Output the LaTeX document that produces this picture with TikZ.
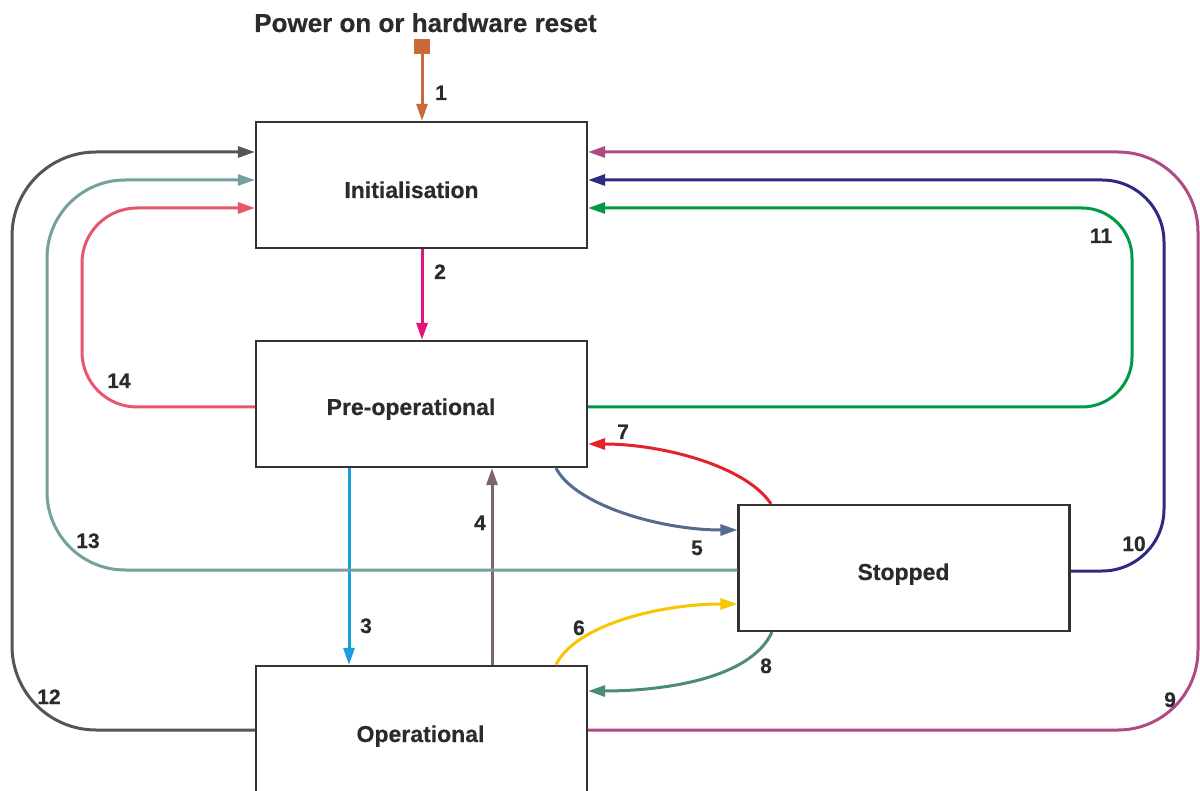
\documentclass[tikz,border=0pt]{standalone}
\usepackage{fontspec}
\setmainfont{Liberation Sans}[BoldFeatures={FakeBold=0.5}]
\usetikzlibrary{arrows.meta,calc}

\definecolor{txt}{HTML}{2B2B2B}
\definecolor{boxc}{HTML}{333333}
\definecolor{cA}{HTML}{C96A3A}
\definecolor{cB}{HTML}{E2127F}
\definecolor{cC}{HTML}{189FDE}
\definecolor{cD}{HTML}{7C6572}
\definecolor{cE}{HTML}{56698F}
\definecolor{cF}{HTML}{F7C600}
\definecolor{cG}{HTML}{E3232B}
\definecolor{cH}{HTML}{4C8A7A}
\definecolor{cI}{HTML}{B04A85}
\definecolor{cJ}{HTML}{2E2A82}
\definecolor{cK}{HTML}{009A47}
\definecolor{cL}{HTML}{555555}
\definecolor{cM}{HTML}{74A09D}
\definecolor{cN}{HTML}{E8566D}

\begin{document}
\begin{tikzpicture}[x=1pt,y=-1pt,
  state/.style={draw=boxc, line width=2.2pt, minimum width=331pt,
    minimum height=126pt, inner sep=0pt},
  lbl/.style={font=\bfseries\fontsize{23}{27}\selectfont, text=txt,
    anchor=base, inner sep=0pt},
  heading/.style={font=\bfseries\fontsize{26}{30}\selectfont, text=txt,
    anchor=base, inner sep=0pt},
  num/.style={font=\bfseries\fontsize{21}{25}\selectfont, text=txt,
    anchor=base, inner sep=0pt},
  conn/.style={line width=3pt, -{Triangle[length=17pt,width=11pt]}}]

\useasboundingbox (0,0) rectangle (1200,791);
\clip (0,0) rectangle (1200,791);

% states
\node[state] (init)  at (421.5,185) {};
\node[state] (preop) at (421.5,404) {};
\node[state] (stop)  at (904,568)   {};
\node[state] (oper)  at (421.5,729) {};

\node[lbl] (initT)  at (411.5,198) {Initialisation};
\node[lbl] (preopT) at (411,415)   {Pre-operational};
\node[lbl] (stopT)  at (903.5,580) {Stopped};
\node[lbl] (operT)  at (420.5,742) {Operational};

% start point
\node[heading] (title) at (425.5,32) {Power on or hardware reset};
\node[fill=cA, minimum width=16pt, minimum height=15pt, inner sep=0pt]
  (power) at (422,46.5) {};

% straight transitions
\draw[conn,cA] (power.south) -- (power.south |- init.north);
\draw[conn,cB] (init.south -| 422,0) -- (preop.north -| 422,0);
\draw[conn,cC] (preop.south -| 349,0) -- (oper.north -| 349,0);
\draw[conn,cD] (oper.north -| 492,0) -- (preop.south -| 492,0);

% curved transitions
\draw[conn,cE] (preop.south -| 556,0) .. controls (575,505) and (660,530) .. (stop.west |- 0,530);
\draw[conn,cF] (oper.north -| 556,0) .. controls (575,625) and (660,604) .. (stop.west |- 0,604);
\draw[conn,cG] (stop.north -| 771,0) .. controls (745,465) and (660,444) .. (preop.east |- 0,444);
\draw[conn,cH] (stop.south -| 772,0) .. controls (750,680) and (660,691) .. (oper.east |- 0,691);

% reset loops on the right
\draw[conn,cI,rounded corners=80pt] (oper.east |- 0,730) -- (1198,730) -- (1198,152) -- (init.east |- 0,152);
\draw[conn,cJ,rounded corners=62pt] (stop.east |- 0,571) -- (1164,571) -- (1164,180) -- (init.east |- 0,180);
\draw[conn,cK,rounded corners=50pt] (preop.east |- 0,407) -- (1132,407) -- (1132,208) -- (init.east |- 0,208);

% reset loops on the left
\draw[conn,cL,rounded corners=84pt] (oper.west |- 0,730) -- (12,730) -- (12,152) -- (init.west |- 0,152);
\draw[conn,cM,rounded corners=78pt] (stop.west |- 0,570) -- (47,570) -- (47,180) -- (init.west |- 0,180);
\draw[conn,cN,rounded corners=55pt] (preop.west |- 0,407) -- (82,407) -- (82,208) -- (init.west |- 0,208);

% transition numbers
\node[num] (n1)  at (441,100)  {1};
\node[num] (n2)  at (440,279)  {2};
\node[num] (n3)  at (366,633)  {3};
\node[num] (n4)  at (480,530)  {4};
\node[num] (n5)  at (697,555)  {5};
\node[num] (n6)  at (579,635)  {6};
\node[num] (n7)  at (623,439)  {7};
\node[num] (n8)  at (766,673)  {8};
\node[num] (n9)  at (1170,707) {9};
\node[num] (n10) at (1134,551) {10};
\node[num] (n11) at (1101,243) {11};
\node[num] (n12) at (49,704)   {12};
\node[num] (n13) at (88,548)   {13};
\node[num] (n14) at (119,388)  {14};
\end{tikzpicture}
\end{document}
